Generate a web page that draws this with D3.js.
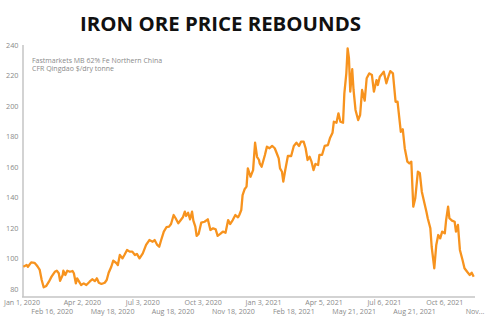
<!DOCTYPE html>
<html>
<head>
<meta charset="utf-8">
<script src="https://cdn.jsdelivr.net/npm/d3@7"></script>
<style>
html,body{margin:0;padding:0;background:#fff;}
svg{display:block;}
</style>
</head>
<body>
<svg id="chart" width="490" height="323"></svg>
<script>
const title = "IRON ORE PRICE REBOUNDS";
const noteLines = ["Fastmarkets MB 62% Fe Northern China", "CFR Qingdao $/dry tonne"];
const yTicks = [80, 100, 120, 140, 160, 180, 200, 220, 240];
const xTickDates = ["2020-01-01","2020-02-16","2020-04-02","2020-05-18","2020-07-03","2020-08-18","2020-10-03","2020-11-18","2021-01-03","2021-02-18","2021-04-05","2021-05-21","2021-07-06","2021-08-21","2021-10-06","2021-11-21"];
const xTickLabels = ["Jan 1, 2020","Feb 16, 2020","Apr 2, 2020","May 18, 2020","Jul 3, 2020","Aug 18, 2020","Oct 3, 2020","Nov 18, 2020","Jan 3, 2021","Feb 18, 2021","Apr 5, 2021","May 21, 2021","Jul 6, 2021","Aug 21, 2021","Oct 6, 2021","Nov..."];

const dates = [
"2020-01-03","2020-01-08","2020-01-10","2020-01-15","2020-01-20","2020-01-23","2020-01-25","2020-01-28","2020-01-31","2020-02-03",
"2020-02-07","2020-02-11","2020-02-15","2020-02-20","2020-02-23","2020-02-26","2020-02-28","2020-03-03","2020-03-04","2020-03-07",
"2020-03-10","2020-03-14","2020-03-18","2020-03-20","2020-03-23","2020-03-25","2020-03-28","2020-03-31","2020-04-04","2020-04-08",
"2020-04-13","2020-04-17","2020-04-21","2020-04-24","2020-04-27","2020-05-01","2020-05-06","2020-05-09","2020-05-12","2020-05-16",
"2020-05-19","2020-05-24","2020-05-26","2020-05-29","2020-06-02","2020-06-05","2020-06-09","2020-06-13","2020-06-17","2020-06-21",
"2020-06-24","2020-06-28","2020-07-03","2020-07-08","2020-07-13","2020-07-18","2020-07-21","2020-07-25","2020-07-28","2020-07-31",
"2020-08-04","2020-08-08","2020-08-12","2020-08-15","2020-08-19","2020-08-22","2020-08-26","2020-08-29","2020-09-02","2020-09-05",
"2020-09-07","2020-09-10","2020-09-13","2020-09-16","2020-09-18","2020-09-21","2020-09-23","2020-09-26","2020-09-30","2020-10-05",
"2020-10-10","2020-10-14","2020-10-18","2020-10-22","2020-10-25","2020-10-29","2020-11-02","2020-11-06","2020-11-10","2020-11-13",
"2020-11-17","2020-11-21","2020-11-25","2020-11-27","2020-11-30","2020-12-02","2020-12-05","2020-12-08","2020-12-10","2020-12-14",
"2020-12-18","2020-12-21","2020-12-24","2020-12-27","2020-12-28","2020-12-31","2021-01-05","2021-01-08","2021-01-12","2021-01-16",
"2021-01-20","2021-01-23","2021-01-26","2021-01-28","2021-01-31","2021-02-02","2021-02-05","2021-02-09","2021-02-14","2021-02-18",
"2021-02-22","2021-02-26","2021-03-01","2021-03-05","2021-03-08","2021-03-11","2021-03-14","2021-03-17","2021-03-20","2021-03-23",
"2021-03-27","2021-03-29","2021-04-02","2021-04-06","2021-04-11","2021-04-14","2021-04-18","2021-04-20","2021-04-24","2021-04-27",
"2021-04-30","2021-05-04","2021-05-06","2021-05-09","2021-05-11","2021-05-13","2021-05-15","2021-05-18","2021-05-20","2021-05-23",
"2021-05-27","2021-05-30","2021-06-02","2021-06-06","2021-06-09","2021-06-13","2021-06-17","2021-06-20","2021-06-24","2021-06-26",
"2021-06-29","2021-07-03","2021-07-05","2021-07-09","2021-07-12","2021-07-15","2021-07-19","2021-07-23","2021-07-26","2021-07-31",
"2021-08-03","2021-08-06","2021-08-10","2021-08-13","2021-08-16","2021-08-19","2021-08-22","2021-08-26","2021-08-29","2021-09-01",
"2021-09-05","2021-09-08","2021-09-10","2021-09-14","2021-09-16","2021-09-20","2021-09-23","2021-09-26","2021-09-29","2021-10-02",
"2021-10-06","2021-10-08","2021-10-11","2021-10-13","2021-10-17","2021-10-21","2021-10-23","2021-10-26","2021-10-29","2021-11-02",
"2021-11-05","2021-11-09","2021-11-13","2021-11-16","2021-11-19"
];
const prices = [
94.6,95.7,94.6,97.5,97.2,95.7,94.6,92.5,85.9,81.1,
82.0,84.8,88.1,91.3,92.0,90.3,85.4,89.2,92.0,89.2,
92.0,91.3,91.8,90.3,83.7,87.0,84.8,82.6,83.7,82.6,
84.8,86.4,85.2,87.0,84.1,83.3,84.1,85.9,90.7,94.6,
98.6,96.9,95.7,102.3,100.1,102.3,105.6,104.5,104.5,102.3,
103.0,100.1,103.4,108.9,112.1,111.0,112.1,108.9,107.7,112.1,
117.6,120.5,120.9,122.6,128.5,126.4,123.1,124.8,127.0,130.7,
127.9,130.0,125.7,130.7,124.8,120.9,114.8,116.1,123.5,124.1,
125.7,118.7,119.8,119.1,114.8,116.1,117.6,116.9,125.2,122.6,
125.2,128.5,127.0,128.5,131.8,141.6,145.4,147.1,159.1,153.6,
158.0,175.9,166.7,164.6,162.4,160.2,167.9,173.3,172.3,173.8,
172.3,169.0,165.7,159.1,156.9,150.4,158.0,167.2,167.2,173.8,
175.9,173.8,176.6,176.6,172.3,164.6,166.7,163.5,158.0,162.0,
161.3,167.9,167.9,173.8,174.4,178.8,182.5,189.7,189.0,195.2,
189.7,189.0,208.3,221.4,237.8,231.3,209.4,224.1,210.5,197.4,
190.8,194.1,210.5,203.5,218.2,221.4,220.3,209.4,217.0,213.8,
219.2,221.4,222.5,214.9,219.2,222.9,221.4,202.8,202.8,183.1,
184.7,172.3,163.5,162.4,163.5,134.0,139.5,156.9,155.9,143.8,
136.2,130.7,126.4,119.8,107.7,93.6,108.9,115.4,113.2,117.6,
116.5,125.2,134.0,126.4,124.8,124.1,117.6,122.0,105.6,99.0,
93.6,91.3,89.2,90.7,88.1
];

const parse = d3.timeParse("%Y-%m-%d");
const data = dates.map((d, i) => ({date: parse(d), value: prices[i]}));

const svg = d3.select("#chart");
const x = d3.scaleTime().domain([parse("2020-01-01"), parse("2021-11-21")]).range([22, 475]);
const y = d3.scaleLinear().domain([80, 240]).range([289, 45]);
const yBottom = 297;

// Title
svg.append("text")
  .attr("x", 80).attr("y", 31)
  .attr("font-family", "Open Sans, sans-serif")
  .attr("font-weight", 700)
  .attr("font-size", 19)
  .attr("fill", "#111")
  .attr("textLength", 281)
  .attr("lengthAdjust", "spacingAndGlyphs")
  .text(title);

// Y axis line
svg.append("line")
  .attr("x1", x.range()[0] + 1).attr("x2", x.range()[0] + 1)
  .attr("y1", y(240)).attr("y2", yBottom)
  .attr("stroke", "#c4c4c4").attr("stroke-width", 1.5);

// X axis line
svg.append("line")
  .attr("x1", x.range()[0]).attr("x2", x.range()[1])
  .attr("y1", yBottom).attr("y2", yBottom)
  .attr("stroke", "#c4c4c4").attr("stroke-width", 1.5);

// Y tick labels
svg.append("g").selectAll("text").data(yTicks).join("text")
  .attr("x", 18.5).attr("y", d => y(d) + 2.5)
  .attr("text-anchor", "end")
  .attr("font-family", "Open Sans, sans-serif")
  .attr("font-size", 7.3)
  .attr("fill", "#8a8a8a")
  .text(d => d);

// X tick labels
svg.append("g").selectAll("text").data(xTickDates).join("text")
  .attr("x", d => x(parse(d)))
  .attr("y", (d, i) => i % 2 === 0 ? 304.8 : 314.3)
  .attr("text-anchor", "middle")
  .attr("font-family", "Open Sans, sans-serif")
  .attr("font-size", 7.1)
  .attr("fill", "#8a8a8a")
  .text((d, i) => xTickLabels[i]);

// Note
svg.append("g").selectAll("text").data(noteLines).join("text")
  .attr("x", 32).attr("y", (d, i) => 62.5 + i * 8)
  .attr("font-family", "Open Sans, sans-serif")
  .attr("font-size", 7)
  .attr("fill", "#8a8a8a")
  .text(d => d);

// Line
const line = d3.line().x(d => x(d.date)).y(d => y(d.value));
svg.append("path")
  .datum(data)
  .attr("d", line)
  .attr("fill", "none")
  .attr("stroke", "#f7931e")
  .attr("stroke-width", 2.3)
  .attr("stroke-linejoin", "round");
</script>
</body>
</html>
